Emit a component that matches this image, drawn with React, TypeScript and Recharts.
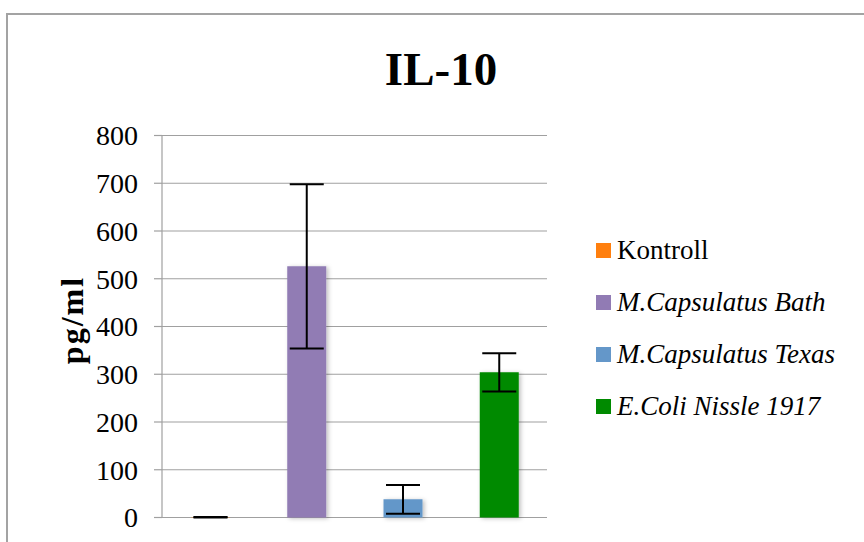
import { BarChart, Bar, Cell, XAxis, YAxis, CartesianGrid, ErrorBar } from "recharts";

const categories = ["Kontroll", "M.Capsulatus Bath", "M.Capsulatus Texas", "E.Coli Nissle 1917"];
const values = [0.5, 526, 38, 304];
const errors = [0.5, 172, 30, 40];
const colors = ["#ff7f0e", "#917bb4", "#6497c9", "#008a00"];
const italic = [false, true, true, true];
const yTicks = [0, 100, 200, 300, 400, 500, 600, 700, 800];

const data = categories.map((name, i) => ({ name, value: values[i], err: errors[i] }));

const font = '"Liberation Serif", serif';

function LegendBox() {
  return (
    <div style={{ position: "absolute", left: 596, top: 224, fontFamily: font, fontSize: 27, color: "#000" }}>
      {categories.map((c, i) => (
        <div key={c} style={{ display: "flex", alignItems: "center", height: 52 }}>
          <span style={{ width: 15, height: 15, background: colors[i], marginRight: 6, flexShrink: 0 }} />
          <span style={{ fontStyle: italic[i] ? "italic" : "normal", whiteSpace: "nowrap" }}>{c}</span>
        </div>
      ))}
    </div>
  );
}

export default function App() {
  return (
    <div style={{ position: "fixed", left: 0, top: 0, width: 864, height: 542, overflow: "hidden", background: "#fff" }}>
      <svg width={0} height={0} style={{ position: "absolute" }}>
        <defs>
          <filter id="barShadow" x="-20%" y="-20%" width="150%" height="150%">
            <feDropShadow dx="2" dy="1" stdDeviation="2" floodColor="#000" floodOpacity="0.25" />
          </filter>
        </defs>
      </svg>
      <div
        style={{
          position: "absolute",
          left: 6,
          top: 13,
          width: 900,
          height: 600,
          borderLeft: "2px solid #a3a3a3",
          borderTop: "2px solid #a3a3a3",
        }}
      />
      <div
        style={{
          position: "absolute",
          left: 341,
          top: 46,
          width: 200,
          textAlign: "center",
          fontFamily: font,
          fontWeight: 700,
          fontSize: 47,
          lineHeight: 1,
        }}
      >
        IL-10
      </div>
      <div
        style={{
          position: "absolute",
          left: 72 - 70,
          top: 320 - 16,
          width: 140,
          height: 32,
          lineHeight: "32px",
          textAlign: "center",
          transform: "rotate(-90deg)",
          fontFamily: font,
          fontWeight: 700,
          fontSize: 32,
          letterSpacing: 2,
        }}
      >
        pg/ml
      </div>
      <div style={{ position: "absolute", left: 0, top: 0 }}>
        <BarChart
          width={864}
          height={542}
          data={data}
          margin={{ top: 135.5, right: 317, left: 102, bottom: 24.5 }}
          barSize={39}
        >
          <CartesianGrid vertical={false} stroke="#a0a0a0" strokeWidth={1.2} />
          <XAxis dataKey="name" hide />
          <YAxis
            width={60}
            domain={[0, 800]}
            ticks={yTicks}
            interval={0}
            tickSize={8}
            tickMargin={16}
            axisLine={{ stroke: "#a0a0a0", strokeWidth: 1.2 }}
            tickLine={{ stroke: "#a0a0a0", strokeWidth: 1.2 }}
            tick={{ fill: "#000", fontSize: 28, fontFamily: font }}
          />
          <Bar dataKey="value" isAnimationActive={false} style={{ filter: "url(#barShadow)" }}>
            {data.map((d, i) => (
              <Cell key={d.name} fill={colors[i]} />
            ))}
            <ErrorBar dataKey="err" width={17} stroke="#000" strokeWidth={2} direction="y" />
          </Bar>
        </BarChart>
      </div>
      <LegendBox />
    </div>
  );
}
